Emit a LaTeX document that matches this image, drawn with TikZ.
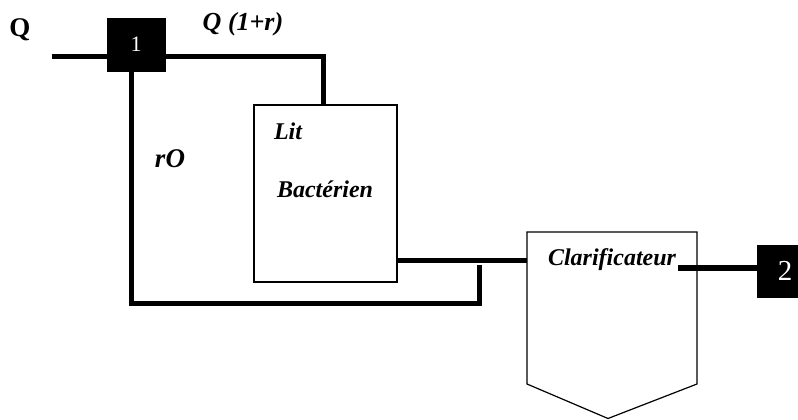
\documentclass[tikz,border=0pt]{standalone}
\usepackage{fontspec}
\setmainfont{Liberation Serif}
\begin{document}
\begin{tikzpicture}[x=1pt,y=-1pt,
  blk/.style={draw=black,fill=black,text=white,inner sep=0pt},
  tank/.style={draw=black,line width=1.2pt,fill=white,inner sep=0pt},
  flow/.style={line width=5pt},
  lbl/.style={inner sep=0pt,font=\fontsize{24}{26}\selectfont\bfseries\itshape}]
\useasboundingbox (0,0) rectangle (798,420);
% nodes
\node[blk,minimum width=58pt,minimum height=53pt,font=\fontsize{22}{24}\selectfont] (b1) at (136,44.5) {1};
\node[blk,minimum width=42pt,minimum height=52pt,anchor=north west,font=\fontsize{29}{30}\selectfont] (b2) at (757,245) {\raisebox{-4pt}{\hspace*{14pt}2}};
\node[tank,minimum width=143pt,minimum height=177pt] (lit) at (325.5,193.5) {};
\draw[line width=1.2pt] (527,232) -- (697,232) -- (697,384) -- (608,418.5) -- (527,384) -- cycle;
\coordinate (clarW) at (527,260.5);
\coordinate (clarO) at (678,267.5);
% labels
\node[inner sep=0pt,font=\fontsize{27}{28}\selectfont\bfseries] (lq) at (20,30) {Q};
\node[lbl,font=\fontsize{26}{28}\selectfont\bfseries\itshape] (lq1) at (243,24) {Q (1+r)};
\node[lbl,font=\fontsize{27}{28}\selectfont\bfseries\itshape] (lro) at (170,159) {rO};
\node[lbl] (llit) at (288,131) {Lit};
\node[lbl] (lbac) at (325,189) {Bactérien};
\node[lbl] (lclar) at (612,260) {Clarificateur};
% connectors
\coordinate (qin) at (52,57);
\coordinate (topturn) at (323,57);
\coordinate (r1) at (131.5,303);
\coordinate (r2) at (479,303);
\coordinate (r3) at (479,265);
\draw[flow] (qin) -- (qin -| b1.west);
\draw[flow] (topturn -| b1.east) -- (topturn) -- (lit.north -| topturn);
\draw[flow] (b1.south -| r1) -- ([yshift=2.5pt]r1) -- (r1) -- (r2) -- (r3);
\draw[flow] (lit.east |- clarW) -- (clarW);
\draw[line width=6pt] (clarO) -- (clarO -| b2.west);
\end{tikzpicture}
\end{document}
